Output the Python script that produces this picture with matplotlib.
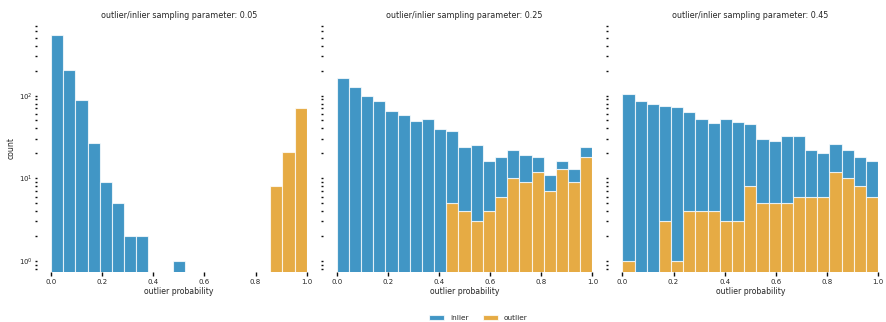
import numpy as np
from matplotlib import pyplot as plt

# histogram counts per bin (21 bins over [0, 1])
edges = np.linspace(0, 1, 22)
params = [0.05, 0.25, 0.45]

inlier_05 = [542, 202, 89, 27, 9, 5, 2, 2, 0, 0, 1, 0, 0, 0, 0, 0, 0, 0, 0, 0, 0]
outlier_05 = [0, 0, 0, 0, 0, 0, 0, 0, 0, 0, 0, 0, 0, 0, 0, 0, 0, 0, 8, 21, 70]

inlier_25 = [164, 126, 98, 85, 65, 58, 49, 52, 39, 32, 20, 22, 12, 12, 12, 10, 6, 4, 3, 4, 6]
outlier_25 = [0, 0, 0, 0, 0, 0, 0, 0, 0, 5, 4, 3, 4, 6, 10, 9, 12, 7, 13, 9, 18]

inlier_45 = [105, 85, 79, 72, 72, 60, 48, 42, 49, 45, 37, 25, 23, 27, 26, 16, 14, 14, 12, 10, 10]
outlier_45 = [1, 0, 0, 3, 1, 4, 4, 4, 3, 3, 8, 5, 5, 5, 6, 6, 6, 12, 10, 8, 6]

inliers = [inlier_05, inlier_25, inlier_45]
outliers = [outlier_05, outlier_25, outlier_45]

blue = '#0173b2'
orange = '#de8f05'
txt = '0.15'

plt.rcParams['font.family'] = 'DejaVu Sans'
plt.rcParams['text.color'] = txt
plt.rcParams['axes.labelcolor'] = txt
plt.rcParams['xtick.color'] = '0.05'
plt.rcParams['ytick.color'] = '0.05'
plt.rcParams['xtick.labelcolor'] = txt
plt.rcParams['ytick.labelcolor'] = txt

fig, axes = plt.subplots(1, 3, figsize=(8.87, 3.22), dpi=100, sharey=True)
fig.subplots_adjust(left=0.0575, right=0.99, bottom=0.155, top=0.923, wspace=0.117)

left = edges[:-1]
width = np.diff(edges)

for ax, p, inl, out in zip(axes, params, inliers, outliers):
    inl = np.array(inl)
    out = np.array(out)
    m = out > 0
    ax.bar(left[m], out[m], width=width[m], align='edge', color=orange,
           alpha=0.75, edgecolor='white', linewidth=0.8, label='outlier')
    m = inl > 0
    bottom = np.where(out > 0, out, 0)
    ax.bar(left[m], inl[m], bottom=bottom[m], width=width[m], align='edge',
           color=blue, alpha=0.75, edgecolor='white', linewidth=0.8, label='inlier')

    ax.set_yscale('log')
    ax.set_ylim(0.73, 720)
    ax.set_xlim(0, 1)
    ax.set_xticks([0, 0.2, 0.4, 0.6, 0.8, 1.0])
    for s in ax.spines.values():
        s.set_visible(False)
    ax.spines['left'].set_position(('outward', 10))
    ax.tick_params(axis='x', length=3, width=1.0, pad=2, labelsize=5)
    ax.tick_params(axis='y', which='both', length=1.8, width=1.0, pad=1.5, labelsize=5)
    ax.set_title('outlier/inlier sampling parameter: %.2f' % p, fontsize=5.8, pad=5)
    ax.set_xlabel('outlier probability', fontsize=5.6, labelpad=1.5)

axes[0].set_ylabel('count', fontsize=5.6, labelpad=2)

h, l = axes[0].get_legend_handles_labels()
fig.legend(h[::-1], l[::-1], loc='center', bbox_to_anchor=(478.5 / 887, 1 - 318 / 322),
           ncol=2, frameon=False, fontsize=5.3, handlelength=2, handleheight=0.7,
           columnspacing=2)

plt.savefig('out.png', dpi=100)
